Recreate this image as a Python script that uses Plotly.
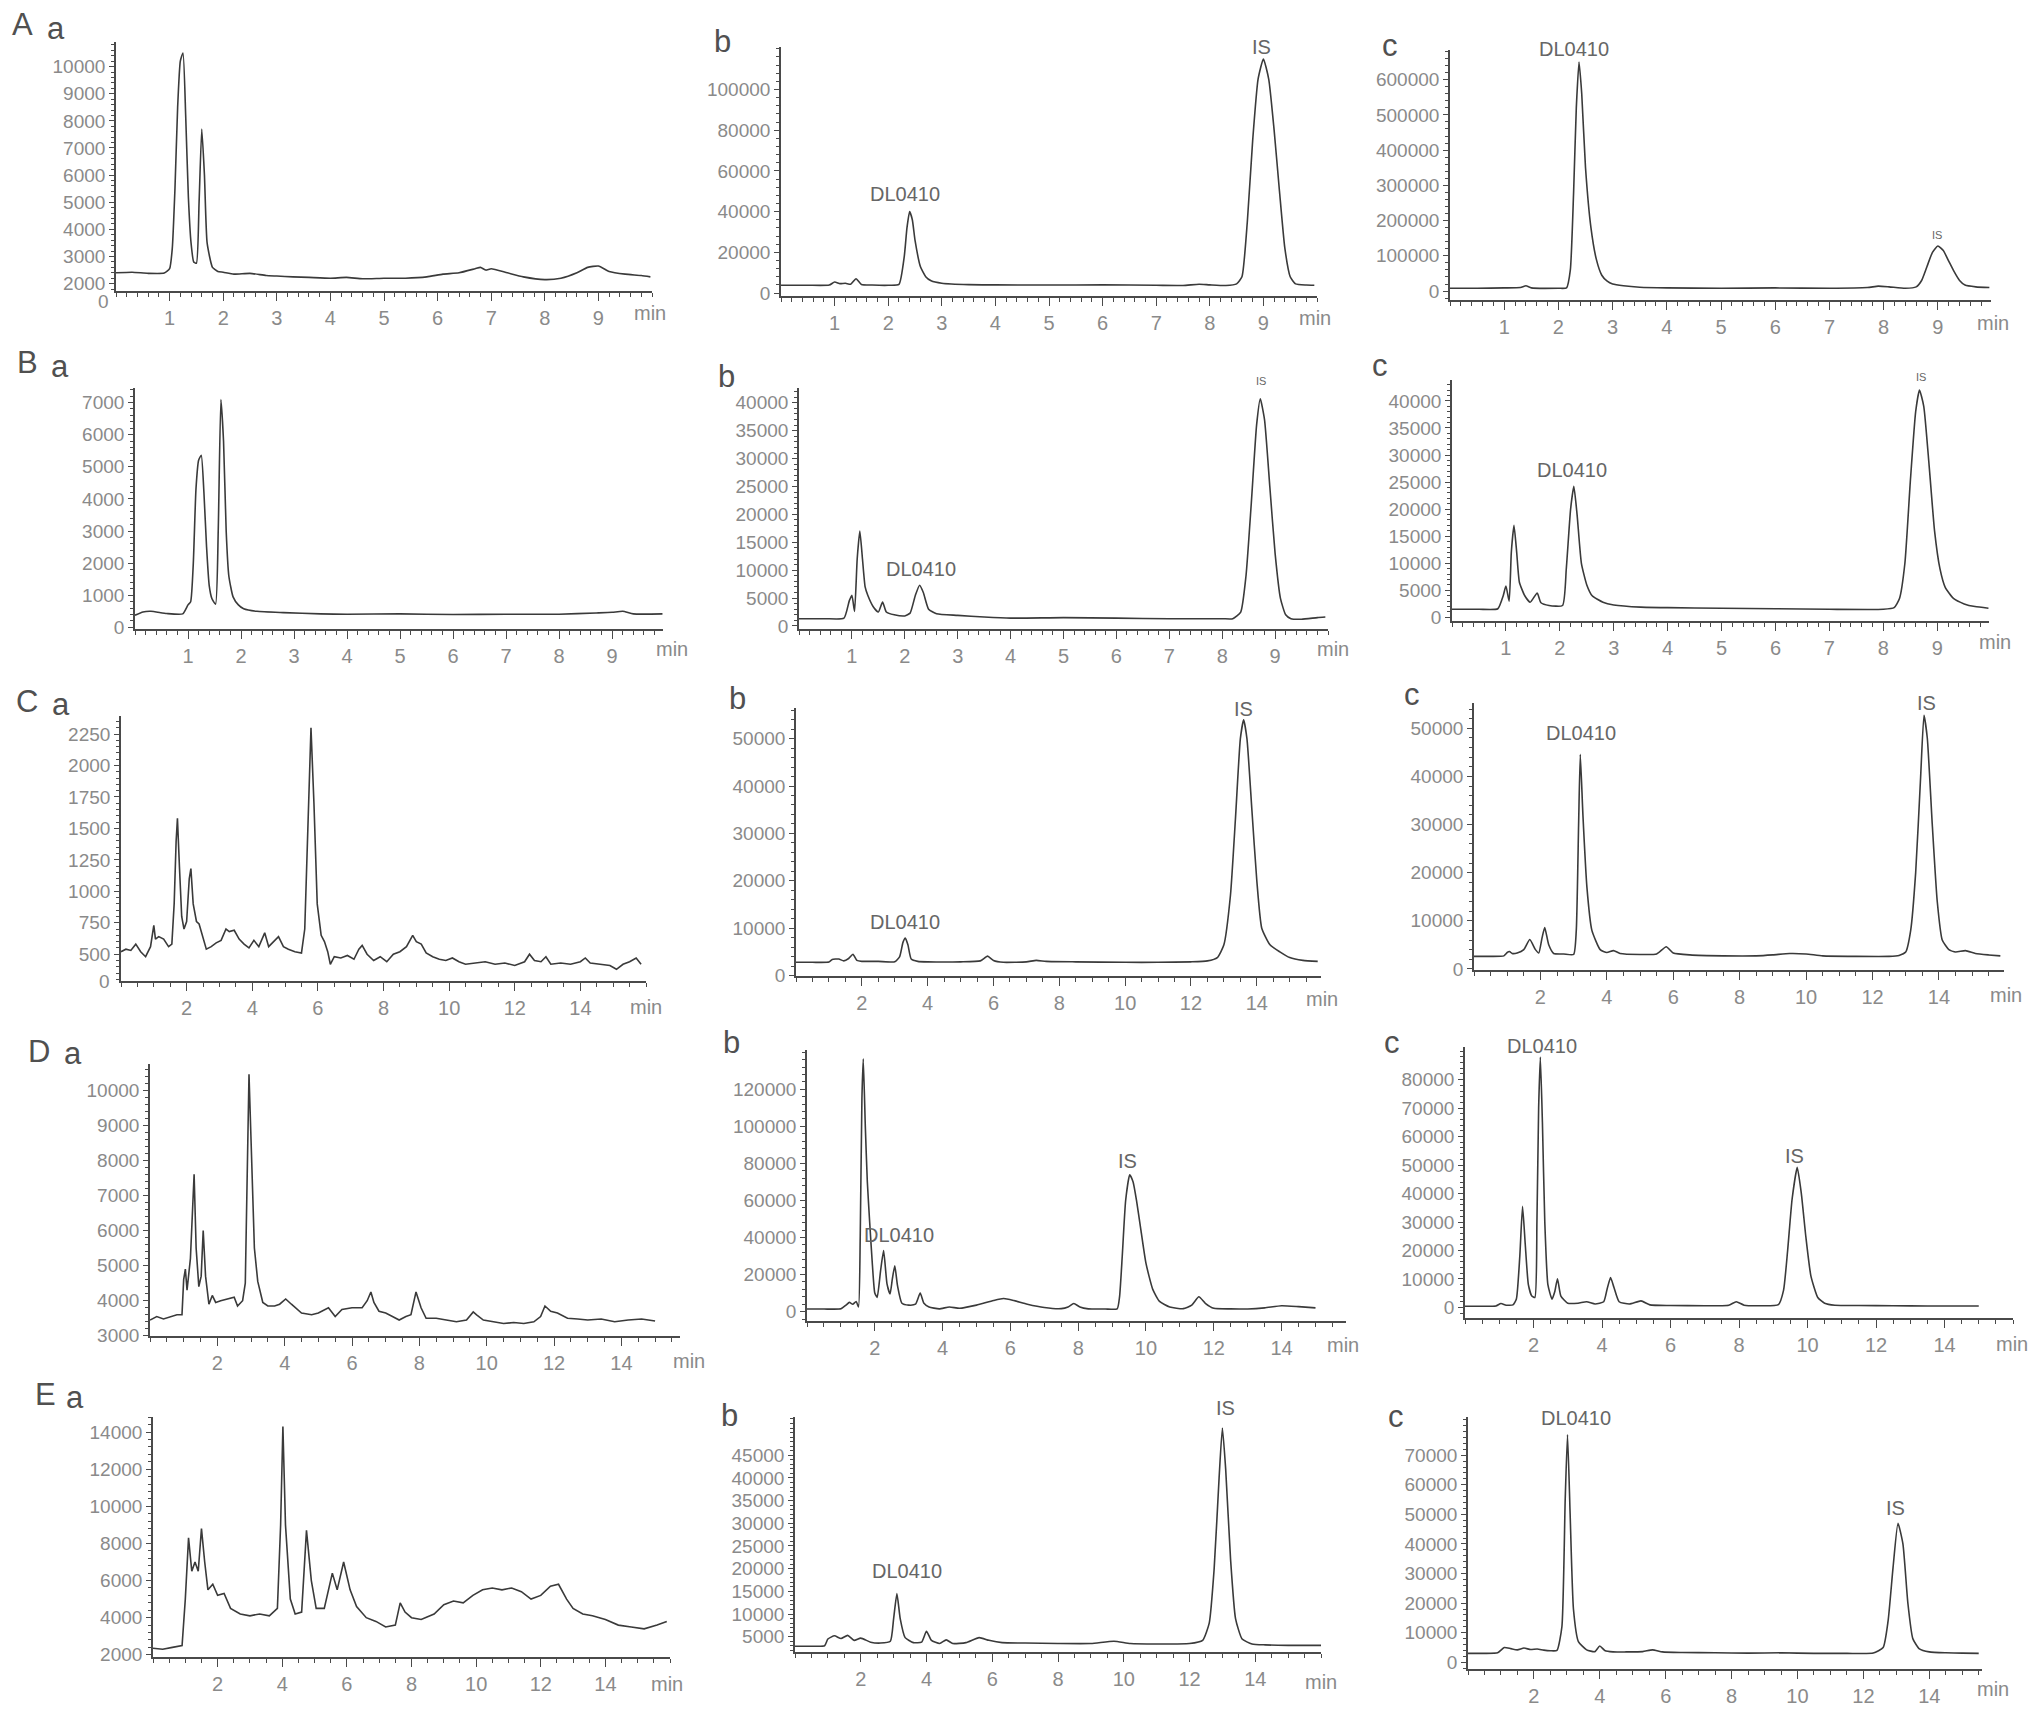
import plotly.graph_objects as go

W, H = 2031, 1717
FONT = "Liberation Sans, Arial, sans-serif"
LINE = "#3a3a3a"
AXIS = "#4a4a4a"
TICKTXT = "#8a8a8a"
LABEL = "#666666"

# ---- A: chromatograms (time in min, signal in counts) ----
aa_time = [0, 0.3, 0.6, 0.9, 1.0, 1.05, 1.1, 1.15, 1.2, 1.25, 1.3, 1.35, 1.4, 1.45, 1.5, 1.55, 1.6, 1.65, 1.7, 1.8,
           1.9, 2.0, 2.2, 2.5, 2.8, 3.0, 3.3, 3.6, 4.0, 4.3, 4.6, 5.0, 5.4, 5.8, 6.1, 6.4, 6.7, 6.8, 6.9, 7.0,
           7.3, 7.6, 8.0, 8.3, 8.6, 8.8, 9.0, 9.2, 9.5, 9.8, 9.97]
aa_signal = [2400, 2420, 2380, 2390, 2550, 3300, 5500, 8500, 10200, 10500, 8200, 5200, 3500, 2800, 2750, 5000, 7700, 6000, 3500, 2600,
             2450, 2420, 2350, 2380, 2300, 2280, 2250, 2230, 2200, 2230, 2180, 2200, 2200, 2250, 2350, 2400, 2550, 2600, 2500, 2550,
             2400, 2250, 2150, 2200, 2400, 2600, 2650, 2450, 2350, 2300, 2250]

ab_time = [0, 0.5, 0.9, 1.0, 1.1, 1.2, 1.3, 1.4, 1.5, 1.7, 2.0, 2.2, 2.3, 2.35, 2.4, 2.45, 2.5, 2.6, 2.7, 2.8,
           3.0, 3.5, 4.0, 5.0, 6.0, 7.0, 7.5, 7.8, 8.0, 8.3, 8.5, 8.6, 8.7, 8.8, 8.9, 9.0, 9.1, 9.2, 9.3, 9.4,
           9.5, 9.6, 9.8, 9.95]
ab_signal = [3800, 3800, 3900, 5400, 4600, 4800, 4300, 7000, 4200, 3900, 3800, 4200, 18000, 32000, 40000, 36000, 26000, 13000, 8000, 6000,
             4800, 4100, 4000, 3900, 4000, 3800, 3700, 4300, 4000, 3700, 4500, 8000, 35000, 75000, 105000, 115000, 105000, 80000, 50000, 22000,
             8000, 4500, 3900, 3800]

ac_time = [0, 0.5, 1.0, 1.3, 1.4, 1.5, 2.0, 2.15, 2.22, 2.28, 2.33, 2.38, 2.43, 2.5, 2.6, 2.7, 2.8, 2.9, 3.0, 3.2,
           3.5, 4.0, 5.0, 6.0, 7.0, 7.7, 7.9, 8.1, 8.4, 8.6, 8.7, 8.8, 8.9, 9.0, 9.1, 9.2, 9.3, 9.4, 9.5, 9.7,
           9.95]
ac_signal = [8000, 8000, 9000, 10000, 15000, 9000, 8000, 9000, 60000, 280000, 520000, 650000, 560000, 350000, 180000, 90000, 45000, 28000, 20000, 15000,
             11000, 9000, 8000, 9000, 8000, 10000, 14000, 12000, 8000, 12000, 30000, 70000, 110000, 128000, 115000, 85000, 55000, 30000, 17000, 12000,
             10000]

# ---- B ----
ba_time = [0, 0.15, 0.3, 0.6, 0.9, 1.0, 1.05, 1.1, 1.15, 1.2, 1.25, 1.3, 1.35, 1.4, 1.45, 1.52, 1.57, 1.62, 1.67, 1.72,
           1.77, 1.85, 1.95, 2.05, 2.3, 2.8, 3.5, 4.0, 5.0, 6.0, 7.0, 8.0, 8.7, 9.0, 9.2, 9.4, 9.95]
ba_signal = [380, 480, 500, 430, 420, 700, 800, 2000, 4300, 5200, 5360, 4200, 2500, 1300, 900, 720, 3000, 7090, 5800, 3000,
             1600, 950, 700, 580, 500, 460, 420, 410, 420, 400, 410, 410, 450, 470, 500, 420, 420]

bb_time = [0, 0.5, 0.85, 0.95, 1.0, 1.05, 1.1, 1.15, 1.2, 1.25, 1.3, 1.4, 1.5, 1.58, 1.65, 1.8, 2.0, 2.1, 2.2, 2.28,
           2.35, 2.45, 2.6, 3.0, 3.5, 4.0, 5.0, 6.0, 7.0, 8.0, 8.2, 8.35, 8.45, 8.55, 8.65, 8.72, 8.8, 8.9, 9.0, 9.1,
           9.2, 9.3, 9.5, 9.8, 9.95]
bb_signal = [1300, 1300, 1400, 4500, 5500, 2600, 12000, 17000, 12000, 7000, 5500, 3500, 2500, 4300, 2500, 2000, 1800, 2300, 5500, 7300,
             6000, 3000, 2200, 1900, 1600, 1400, 1500, 1400, 1300, 1300, 1300, 2500, 9000, 22000, 36000, 40700, 37000, 25000, 13000, 5000,
             2000, 1300, 1200, 1500, 1600]

bc_time = [0, 0.5, 0.85, 0.95, 1.0, 1.06, 1.1, 1.15, 1.2, 1.25, 1.35, 1.45, 1.58, 1.65, 1.8, 2.05, 2.12, 2.2, 2.26, 2.32,
           2.4, 2.5, 2.6, 2.8, 3.0, 3.5, 4.0, 5.0, 6.0, 7.0, 8.0, 8.2, 8.3, 8.4, 8.5, 8.6, 8.67, 8.75, 8.85, 8.95,
           9.05, 9.15, 9.3, 9.5, 9.7, 9.95]
bc_signal = [1500, 1500, 1600, 4000, 5800, 3000, 12000, 17000, 12000, 6500, 4000, 2800, 4500, 2700, 2200, 2200, 9000, 20000, 24200, 19000,
             10000, 6000, 4000, 2800, 2300, 1900, 1800, 1700, 1600, 1500, 1500, 1800, 3500, 10000, 25000, 38000, 42000, 39000, 28000, 16000,
             9000, 5500, 3500, 2500, 2000, 1700]

# ---- C ----
ca_time = [0, 0.15, 0.3, 0.45, 0.6, 0.75, 0.9, 1.0, 1.05, 1.15, 1.3, 1.45, 1.55, 1.62, 1.68, 1.72, 1.78, 1.85, 1.92, 2.0,
           2.08, 2.13, 2.2, 2.3, 2.38, 2.5, 2.6, 2.75, 2.9, 3.05, 3.2, 3.3, 3.45, 3.6, 3.75, 3.9, 4.05, 4.2, 4.38, 4.5,
           4.65, 4.8, 4.95, 5.1, 5.3, 5.5, 5.6, 5.7, 5.79, 5.88, 5.98, 6.1, 6.2, 6.3, 6.38, 6.5, 6.7, 6.9, 7.1, 7.25,
           7.35, 7.5, 7.7, 7.9, 8.1, 8.3, 8.5, 8.7, 8.89, 9.0, 9.15, 9.3, 9.5, 9.7, 9.9, 10.1, 10.3, 10.5, 10.8, 11.1,
           11.4, 11.7, 12.0, 12.3, 12.45, 12.6, 12.8, 12.95, 13.1, 13.4, 13.7, 14.0, 14.15, 14.3, 14.6, 14.9, 15.1, 15.3, 15.5, 15.7,
           15.85]
ca_signal = [520, 540, 530, 580, 520, 480, 560, 730, 620, 640, 620, 560, 580, 900, 1400, 1580, 1200, 800, 700, 760,
             1100, 1180, 900, 760, 740, 620, 540, 560, 590, 610, 700, 680, 690, 620, 580, 550, 610, 560, 670, 560,
             600, 640, 560, 540, 520, 510, 700, 1500, 2300, 1700, 900, 650, 600, 520, 420, 480, 470, 490, 460, 540,
             570, 500, 450, 480, 440, 500, 520, 560, 650, 600, 580, 510, 480, 460, 450, 470, 440, 420, 430, 440,
             420, 430, 410, 440, 500, 450, 440, 480, 420, 430, 420, 440, 470, 430, 420, 410, 380, 420, 440, 470,
             420]

cb_time = [0, 0.5, 1.0, 1.1, 1.3, 1.45, 1.6, 1.73, 1.85, 2.0, 2.5, 3.0, 3.15, 3.25, 3.32, 3.4, 3.5, 3.7, 4.0, 5.0,
           5.6, 5.82, 6.0, 6.3, 7.0, 7.3, 7.6, 8.5, 10, 11, 12, 12.5, 12.8, 13.0, 13.2, 13.35, 13.5, 13.6, 13.7, 13.85,
           14.0, 14.15, 14.4, 14.7, 15.0, 15.4, 15.85]
cb_signal = [2800, 2800, 2850, 3400, 3500, 3100, 3600, 4500, 3200, 3000, 3000, 2900, 4000, 7000, 7900, 6500, 3500, 3000, 2900, 2900,
             3100, 4100, 3200, 2800, 2900, 3200, 3000, 2900, 2800, 2800, 2900, 3100, 3800, 6500, 17000, 33000, 50000, 54000, 50000, 35000,
             20000, 10000, 6500, 5000, 3800, 3200, 3000]

cc_time = [0, 0.5, 0.9, 1.0, 1.07, 1.15, 1.3, 1.5, 1.68, 1.85, 1.95, 2.05, 2.13, 2.25, 2.4, 2.7, 3.0, 3.08, 3.15, 3.2,
           3.28, 3.4, 3.55, 3.8, 4.0, 4.2, 4.4, 5.0, 5.5, 5.79, 6.0, 6.5, 7.5, 8.5, 9.0, 9.5, 10.0, 10.5, 11.5, 12.5,
           12.8, 13.0, 13.15, 13.3, 13.45, 13.55, 13.65, 13.8, 13.95, 14.1, 14.3, 14.5, 14.8, 15.1, 15.5, 15.85]
cc_signal = [2600, 2600, 2700, 3400, 3600, 3200, 3300, 4000, 6100, 4000, 3300, 6500, 8600, 5000, 3200, 3100, 3000, 8000, 30000, 44600,
             32000, 17000, 8000, 4000, 3400, 3800, 3200, 3000, 3100, 4600, 3300, 2900, 2700, 2700, 2900, 3200, 3100, 2700, 2600, 2600,
             2800, 3500, 8000, 20000, 40000, 52700, 48000, 30000, 14000, 6000, 4000, 3500, 3800, 3200, 2900, 2700]

# ---- D ----
da_time = [0, 0.2, 0.4, 0.6, 0.8, 0.95, 1.0, 1.05, 1.1, 1.2, 1.26, 1.31, 1.37, 1.45, 1.52, 1.58, 1.65, 1.75, 1.85, 1.95,
           2.1, 2.3, 2.5, 2.6, 2.75, 2.83, 2.9, 2.94, 3.0, 3.1, 3.2, 3.35, 3.5, 3.7, 3.85, 4.03, 4.2, 4.5, 4.8, 5.0,
           5.3, 5.5, 5.7, 6.0, 6.3, 6.45, 6.56, 6.65, 6.8, 7.0, 7.2, 7.4, 7.6, 7.75, 7.9, 8.05, 8.2, 8.5, 8.8, 9.1,
           9.4, 9.6, 9.7, 9.9, 10.2, 10.5, 10.8, 11.1, 11.4, 11.6, 11.73, 11.9, 12.1, 12.4, 12.7, 13.0, 13.4, 13.8, 14.2, 14.6,
           15.0]
da_signal = [3450, 3550, 3480, 3550, 3600, 3600, 4600, 4900, 4300, 5200, 6800, 7600, 5500, 4400, 4700, 6000, 4700, 3900, 4150, 3950,
             4000, 4050, 4100, 3850, 4000, 4500, 9000, 10450, 8600, 5500, 4550, 3950, 3850, 3850, 3900, 4050, 3900, 3650, 3600, 3650,
             3800, 3550, 3750, 3800, 3800, 4000, 4250, 3950, 3700, 3650, 3550, 3450, 3550, 3600, 4250, 3800, 3500, 3500, 3450, 3400,
             3450, 3680, 3600, 3450, 3400, 3350, 3380, 3350, 3400, 3550, 3850, 3700, 3650, 3500, 3480, 3450, 3480, 3400, 3450, 3480,
             3420]

db_time = [0, 0.5, 1.0, 1.15, 1.25, 1.35, 1.45, 1.52, 1.57, 1.62, 1.66, 1.72, 1.78, 1.85, 1.93, 2.0, 2.07, 2.17, 2.26, 2.36,
           2.45, 2.52, 2.59, 2.67, 2.8, 3.0, 3.2, 3.34, 3.45, 3.6, 3.9, 4.2, 4.5, 5.0, 5.5, 5.8, 6.1, 6.5, 7.0, 7.5,
           7.7, 7.87, 8.05, 8.3, 8.8, 9.15, 9.22, 9.3, 9.4, 9.52, 9.62, 9.72, 9.85, 10.0, 10.2, 10.4, 10.7, 11.1, 11.35, 11.56,
           11.75, 12.0, 12.5, 13.0, 13.5, 14.0, 14.5, 15.0]
db_signal = [1400, 1400, 1500, 3500, 5000, 4000, 5500, 2500, 40000, 115000, 136500, 100000, 70000, 48000, 25000, 10000, 7700, 22000, 33000, 15000,
             9500, 18000, 24700, 14000, 4500, 3500, 4000, 10000, 4500, 2500, 1500, 2500, 1800, 3500, 6000, 7100, 6000, 4000, 2200, 1600,
             2500, 4400, 2500, 1500, 1400, 1500, 8000, 30000, 60000, 73900, 70000, 60000, 44000, 26000, 12000, 5500, 2500, 1600, 3500, 8000,
             4500, 1800, 1500, 1400, 2000, 3200, 2700, 2000]

dc_time = [0, 0.5, 0.9, 1.05, 1.2, 1.4, 1.5, 1.6, 1.68, 1.76, 1.85, 1.95, 2.04, 2.1, 2.15, 2.2, 2.26, 2.33, 2.42, 2.54,
           2.62, 2.7, 2.8, 3.0, 3.3, 3.55, 3.8, 4.05, 4.15, 4.25, 4.35, 4.5, 4.8, 5.14, 5.4, 6.0, 7.0, 7.7, 7.92, 8.15,
           8.7, 9.15, 9.3, 9.42, 9.55, 9.7, 9.82, 9.95, 10.1, 10.3, 10.5, 10.8, 11.5, 12.5, 13.5, 14.3, 15.0]
dc_signal = [400, 400, 500, 1400, 800, 900, 3000, 18000, 35500, 22000, 8000, 4000, 3500, 30000, 70000, 87900, 65000, 30000, 8000, 2900,
             5500, 10100, 4000, 1500, 1500, 2000, 1200, 2000, 6500, 10500, 7000, 2000, 1200, 2300, 900, 700, 600, 800, 2000, 800,
             600, 1000, 6000, 20000, 38000, 49200, 40000, 25000, 11000, 3500, 1500, 800, 700, 600, 500, 500, 500]

# ---- E ----
ea_time = [0, 0.3, 0.6, 0.9, 1.0, 1.1, 1.2, 1.3, 1.4, 1.5, 1.6, 1.7, 1.85, 2.0, 2.2, 2.4, 2.7, 3.0, 3.3, 3.6,
           3.85, 3.95, 4.02, 4.1, 4.25, 4.4, 4.6, 4.75, 4.9, 5.05, 5.3, 5.55, 5.7, 5.9, 6.1, 6.3, 6.6, 6.9, 7.2, 7.5,
           7.65, 7.8, 8.0, 8.3, 8.7, 9.0, 9.3, 9.6, 9.9, 10.2, 10.5, 10.8, 11.1, 11.4, 11.7, 12.0, 12.3, 12.55, 12.8, 13.0,
           13.3, 13.6, 14.0, 14.4, 14.8, 15.2, 15.6, 15.9]
ea_signal = [2350, 2300, 2400, 2500, 5000, 8300, 6500, 7000, 6500, 8800, 7000, 5500, 5800, 5200, 5300, 4500, 4200, 4100, 4200, 4100,
             4500, 9000, 14300, 9000, 5000, 4200, 4300, 8700, 6000, 4500, 4500, 6400, 5500, 7000, 5500, 4600, 4000, 3800, 3500, 3600,
             4800, 4300, 4000, 3900, 4200, 4700, 4900, 4800, 5200, 5500, 5600, 5500, 5600, 5400, 5000, 5200, 5700, 5800, 5000, 4500,
             4200, 4100, 3900, 3600, 3500, 3400, 3600, 3800]

eb_time = [0, 0.5, 0.9, 1.0, 1.2, 1.4, 1.6, 1.8, 2.0, 2.3, 2.6, 2.9, 3.0, 3.1, 3.2, 3.35, 3.6, 3.85, 4.0, 4.15,
           4.4, 4.6, 4.8, 5.2, 5.6, 5.9, 6.3, 7.0, 8.0, 9.0, 9.7, 10.2, 11.0, 12.0, 12.4, 12.6, 12.75, 12.9, 13.0, 13.1,
           13.25, 13.4, 13.6, 13.9, 14.3, 15.0, 15.5, 16.0]
eb_signal = [2900, 2900, 3000, 4500, 5200, 4600, 5300, 4200, 4700, 3800, 3600, 4000, 9000, 14500, 9000, 4800, 3700, 3800, 6200, 4200,
             3500, 4300, 3500, 3700, 4800, 4200, 3700, 3600, 3500, 3500, 4000, 3500, 3400, 3500, 4200, 8000, 20000, 40000, 51000, 42000,
             22000, 9000, 4500, 3400, 3200, 3100, 3100, 3100]

ec_time = [0, 0.5, 0.9, 1.1, 1.3, 1.5, 1.7, 1.9, 2.1, 2.3, 2.5, 2.7, 2.85, 2.95, 3.02, 3.1, 3.2, 3.35, 3.6, 3.85,
           4.0, 4.15, 4.4, 4.8, 5.3, 5.6, 5.9, 6.5, 7.5, 8.5, 9.5, 10.5, 11.5, 12.3, 12.6, 12.75, 12.9, 13.05, 13.2, 13.35,
           13.5, 13.7, 14.0, 14.5, 15.0, 15.5]
ec_signal = [3000, 3000, 3200, 5000, 4600, 4200, 4800, 4300, 4500, 4100, 3900, 4000, 12000, 55000, 77000, 50000, 18000, 7000, 4200, 3600,
             5500, 4000, 3500, 3500, 3600, 4200, 3500, 3300, 3200, 3100, 3200, 3000, 3000, 3100, 5000, 14000, 32000, 47000, 40000, 20000,
             8000, 4500, 3500, 3200, 3100, 3000]

# ---- panel geometry: (time, signal, [left, right, top, bottom] px, x range, y range, y tick values, line shape) ----
panels = [
    (aa_time, aa_signal, (116, 652, 42, 293), [0, 10], [1718, 10916], list(range(2000, 10001, 1000)), "spline"),
    (ab_time, ab_signal, (781, 1317, 47, 298), [0, 10], [-1600, 121000], list(range(0, 100001, 20000)), "spline"),
    (ac_time, ac_signal, (1450, 1991, 50, 302), [0, 9.98], [-26000, 685000], list(range(0, 600001, 100000)), "spline"),
    (ba_time, ba_signal, (135, 663, 390, 633), [0, 9.96], [-60, 7460], list(range(0, 7001, 1000)), "spline"),
    (bb_time, bb_signal, (799, 1328, 390, 633), [0, 10], [-600, 42700], list(range(0, 40001, 5000)), "spline"),
    (bc_time, bc_signal, (1452, 1989, 382, 625), [0, 9.96], [-730, 43900], list(range(0, 40001, 5000)), "spline"),
    (ca_time, ca_signal, (121, 646, 720, 987), [0, 16], [285, 2395], list(range(500, 2251, 250)), "linear"),
    (cb_time, cb_signal, (796, 1321, 712, 982), [0, 15.95], [-150, 56500], list(range(0, 50001, 10000)), "spline"),
    (cc_time, cc_signal, (1474, 2004, 707, 976), [0, 15.96], [-300, 55300], list(range(0, 50001, 10000)), "spline"),
    (da_time, da_signal, (150, 680, 1070, 1344), [0, 15.74], [2990, 10750], list(range(3000, 10001, 1000)), "linear"),
    (db_time, db_signal, (807, 1346, 1056, 1329), [0, 15.9], [-5200, 141300], list(range(0, 120001, 20000)), "spline"),
    (dc_time, dc_signal, (1465, 2013, 1053, 1326), [0, 16], [-3800, 91500], list(range(0, 80001, 10000)), "spline"),
    (ea_time, ea_signal, (153, 670, 1425, 1667), [0, 16], [1866, 14825], list(range(2000, 14001, 2000)), "linear"),
    (eb_time, eb_signal, (795, 1321, 1425, 1662), [0, 16], [1560, 53500], list(range(5000, 45001, 5000)), "spline"),
    (ec_time, ec_signal, (1468, 1982, 1425, 1679), [0, 15.6], [-2350, 83000], list(range(0, 70001, 10000)), "spline"),
]

# text placed in pixel positions (centre)
panel_letters = [("A", 22, 25), ("a", 56, 29), ("b", 722, 42), ("c", 1390, 46),
                 ("B", 27, 365), ("a", 60, 369), ("b", 726, 379), ("c", 1380, 368),
                 ("C", 27, 706), ("a", 61, 709), ("b", 737, 703), ("c", 1412, 699),
                 ("D", 39, 1058), ("a", 73, 1060), ("b", 731, 1049), ("c", 1392, 1049),
                 ("E", 45, 1403), ("a", 75, 1406), ("b", 729, 1424), ("c", 1396, 1425)]
peak_labels = [("DL0410", 905, 195, 20), ("IS", 1261, 47, 20),
               ("DL0410", 1574, 49, 20), ("IS", 1937, 236, 11),
               ("IS", 1261, 383, 11), ("DL0410", 921, 572, 20),
               ("IS", 1921, 379, 11), ("DL0410", 1572, 473, 20),
               ("IS", 1243, 713, 20), ("DL0410", 905, 927, 20),
               ("DL0410", 1581, 737, 20), ("IS", 1926, 707, 20),
               ("IS", 1127, 1168, 20), ("DL0410", 899, 1242, 20),
               ("DL0410", 1542, 1052, 20), ("IS", 1794, 1163, 20),
               ("IS", 1225, 1416, 20), ("DL0410", 907, 1580, 20),
               ("DL0410", 1576, 1426, 20), ("IS", 1895, 1517, 20)]
min_labels = [(650, 315), (1315, 320), (1993, 325),
              (672, 653), (1333, 653), (1995, 646),
              (646, 1013), (1322, 1005), (2006, 1001),
              (689, 1369), (1343, 1353), (2012, 1352),
              (667, 1694), (1321, 1692), (1993, 1699)]
zero_labels = [(103, 303), (104, 987)]


def text_at(px, py, txt, size, color):
    return dict(x=px / W, y=1 - py / H, xref="paper", yref="paper", text=txt, showarrow=False,
                font=dict(size=size, color=color, family=FONT), xanchor="center", yanchor="middle")


fig = go.Figure()
layout = {}
for i, (t, s, (l, r, top, bot), xr, yr, yt, shape) in enumerate(panels, start=1):
    xa = "x" if i == 1 else "x%d" % i
    ya = "y" if i == 1 else "y%d" % i
    fig.add_trace(go.Scatter(x=t, y=s, mode="lines", xaxis=xa, yaxis=ya,
                             line=dict(color=LINE, width=1.6, shape=shape, smoothing=0.5),
                             showlegend=False, hoverinfo="skip"))
    short = xr[1] < 11
    xticks = list(range(1, 10)) if short else list(range(2, 15, 2))
    layout["xaxis" if i == 1 else "xaxis%d" % i] = dict(
        domain=[l / W, r / W], range=xr, anchor=ya, tickmode="array", tickvals=xticks,
        ticks="outside", ticklen=8, tickwidth=1.3, tickcolor=AXIS,
        showline=True, linecolor=AXIS, linewidth=1.6, showgrid=False, zeroline=False,
        tickfont=dict(size=20, color=TICKTXT, family=FONT),
        minor=dict(tick0=0, dtick=0.2 if short else 0.5, ticks="outside", ticklen=4,
                   tickwidth=1.2, tickcolor=AXIS, showgrid=False),
        fixedrange=True)
    layout["yaxis" if i == 1 else "yaxis%d" % i] = dict(
        domain=[1 - bot / H, 1 - top / H], range=yr, anchor=xa, tickmode="array", tickvals=yt,
        tickformat="d", ticks="outside", ticklen=5, tickwidth=1.2, tickcolor=AXIS,
        showline=True, linecolor=AXIS, linewidth=1.6, showgrid=False, zeroline=False,
        tickfont=dict(size=19, color=TICKTXT, family=FONT),
        minor=dict(tick0=yt[0], dtick=(yt[1] - yt[0]) / 5, ticks="outside", ticklen=3,
                   tickwidth=1, tickcolor=AXIS, showgrid=False),
        fixedrange=True)

annotations = []
for txt, px, py in panel_letters:
    annotations.append(text_at(px, py, txt, 31, "#505050"))
for txt, px, py, size in peak_labels:
    annotations.append(text_at(px, py, txt, size, LABEL))
for px, py in min_labels:
    annotations.append(text_at(px, py, "min", 20, TICKTXT))
for px, py in zero_labels:
    annotations.append(text_at(px, py, "0", 19, TICKTXT))

fig.update_layout(**layout)
fig.update_layout(
    width=W, height=H, autosize=False,
    margin=dict(l=0, r=0, t=0, b=0),
    paper_bgcolor="white", plot_bgcolor="white",
    font=dict(family=FONT),
    annotations=annotations,
)

fig.write_html("out.html", config={"displayModeBar": False},
               post_script="document.body.style.margin='0';")
